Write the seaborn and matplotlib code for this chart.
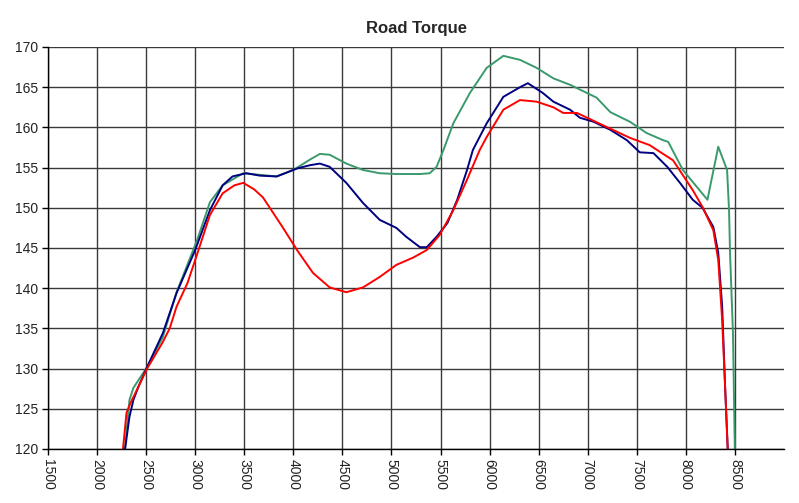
import numpy as np
import pandas as pd
import matplotlib
matplotlib.use("Agg")
import matplotlib.pyplot as plt
import seaborn as sns

# ---- data ----
red_x = [2260, 2300, 2340, 2510, 2670, 2740, 2810, 2920, 3000, 3150, 3280, 3400, 3490,
         3600, 3690, 3890, 4040, 4200, 4370, 4540, 4710, 4880, 5050, 5220, 5360, 5490,
         5630, 5770, 5900, 5970, 6140, 6310, 6480, 6650, 6750, 6890, 7150, 7430, 7630,
         7870, 8070, 8170, 8280, 8330, 8370, 8400, 8430]
red_y = [119.5, 124.5, 125.7, 130.0, 133.3, 135.0, 137.7, 140.6, 143.5, 149.1, 151.8, 152.8, 153.1,
         152.3, 151.3, 147.6, 144.7, 141.9, 140.1, 139.5, 140.1, 141.4, 142.9, 143.8, 144.75, 146.6,
         149.7, 153.5, 157.2, 158.8, 162.2, 163.4, 163.2, 162.5, 161.8, 161.8, 160.3, 158.7, 157.8,
         155.9, 152.2, 150.1, 147.2, 143.5, 136.0, 127.7, 119.0]

navy_x = [2280, 2330, 2370, 2420, 2510, 2670, 2810, 3000, 3150, 3280, 3380, 3520, 3660,
          3830, 4040, 4170, 4270, 4370, 4540, 4710, 4880, 5050, 5150, 5290, 5360, 5460,
          5570, 5670, 5770, 5830, 5970, 6140, 6310, 6390, 6540, 6650, 6820, 6920, 7060,
          7230, 7400, 7530, 7670, 7810, 7940, 8070, 8170, 8280, 8330, 8370, 8400, 8430]
navy_y = [119.5, 124.0, 126.1, 127.7, 130.2, 134.4, 139.4, 144.75, 149.7, 152.8, 153.9, 154.3, 154.0,
          153.9, 154.9, 155.3, 155.5, 155.1, 153.1, 150.6, 148.5, 147.5, 146.4, 145.1, 145.1, 146.4,
          148.1, 151.0, 154.7, 157.2, 160.5, 163.8, 165.0, 165.5, 164.3, 163.2, 162.2, 161.2, 160.7,
          159.7, 158.4, 156.9, 156.8, 155.1, 153.1, 151.0, 150.0, 147.6, 144.4, 137.7, 127.7, 119.0]

green_x = [2280, 2330, 2370, 2510, 2670, 2810, 3020, 3150, 3280, 3490, 3660, 3830, 4000,
           4170, 4270, 4370, 4540, 4710, 4880, 5050, 5290, 5390, 5460, 5530, 5630, 5800,
           5970, 6140, 6310, 6480, 6650, 6820, 7090, 7230, 7430, 7600, 7770, 7820, 7970,
           8220, 8330, 8420, 8440, 8450, 8480, 8500]
green_y = [119.5, 126.1, 127.6, 130.2, 133.9, 139.5, 146.0, 150.7, 152.8, 154.3, 154.1, 153.9, 154.7,
           156.0, 156.7, 156.6, 155.5, 154.7, 154.3, 154.2, 154.2, 154.3, 155.1, 157.2, 160.5, 164.3,
           167.4, 168.9, 168.4, 167.4, 166.1, 165.3, 163.7, 161.9, 160.7, 159.3, 158.4, 158.2, 154.7,
           151.0, 157.6, 154.7, 149.7, 144.4, 134.4, 119.0]

x_ticks = list(range(1500, 9000, 500))
y_ticks = list(range(120, 171, 5))

series = [("green", green_x, green_y), ("navy", navy_x, navy_y), ("red", red_x, red_y)]
df = pd.concat([pd.DataFrame({"rpm": x, "torque": y, "run": name, "order": range(len(x))})
                for name, x, y in series], ignore_index=True)

palette = {"green": "#3a9a6c", "navy": "#000080", "red": "#ff0000"}

sns.set_style("white")
plt.rcParams["font.family"] = ["Liberation Sans", "DejaVu Sans"]

fig = plt.figure(figsize=(7.99, 5.03), dpi=100)
ax = fig.add_axes([48 / 799, 1 - 449 / 503, (784 - 48) / 799, (449 - 47) / 503])

sns.lineplot(data=df, x="rpm", y="torque", hue="run", palette=palette, sort=False,
             estimator=None, units="run", linewidth=1.4, legend=False, ax=ax)

ax.set_xlim(1500, 9000)
ax.set_ylim(120, 170)
ax.set_xticks(x_ticks)
ax.set_xticklabels([str(t) for t in x_ticks], rotation=-90, fontsize=10, color="#222222")
ax.set_yticks(y_ticks)
ax.set_yticklabels([str(t) for t in y_ticks], fontsize=10, color="#222222")
ax.grid(True, color="#3a3a3a", linewidth=1.0)
ax.set_axisbelow(True)
for s in ["top", "right"]:
    ax.spines[s].set_visible(False)
for s in ["left", "bottom"]:
    ax.spines[s].set_color("#000000")
    ax.spines[s].set_linewidth(1.0)
ax.tick_params(axis="both", direction="out", length=4, width=1, color="#000000", pad=3, bottom=True, left=True)
ax.set_xlabel("")
ax.set_ylabel("")
ax.set_title("Road Torque", fontsize=12, fontweight="bold", pad=10)

fig.savefig("out.png", dpi=100)
